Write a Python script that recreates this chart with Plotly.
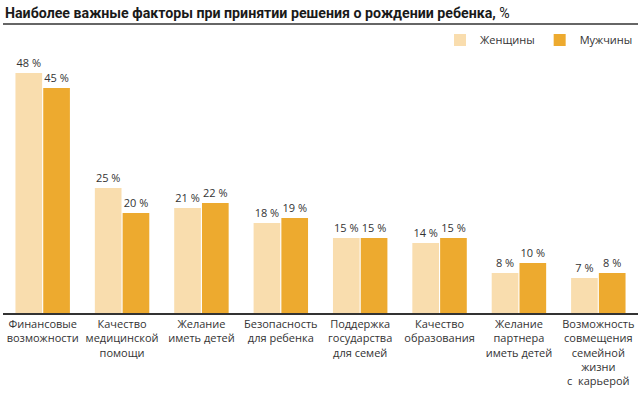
import plotly.graph_objects as go

categories = [
    "Финансовые<br>возможности",
    "Качество<br>медицинской<br>помощи",
    "Желание<br>иметь детей",
    "Безопасность<br>для ребенка",
    "Поддержка<br>государства<br>для семей",
    "Качество<br>образования",
    "Желание<br>партнера<br>иметь детей",
    "Возможность<br>совмещения<br>семейной<br>жизни<br>с  карьерой",
]
women = [48, 25, 21, 18, 15, 14, 8, 7]
men = [45, 20, 22, 19, 15, 15, 10, 8]

FONT = "Open Sans"
TXT = "#333333"

fig = go.Figure()
fig.add_bar(name="Женщины", x=categories, y=women,
            marker=dict(color="#F9DDAE", line=dict(width=0)),
            text=[f"{v} %" for v in women], textposition="outside",
            textfont=dict(size=11, color=TXT, family=FONT), cliponaxis=False)
fig.add_bar(name="Мужчины", x=categories, y=men,
            marker=dict(color="#EDAA2F", line=dict(width=0)),
            text=[f"{v} %" for v in men], textposition="outside",
            textfont=dict(size=11, color=TXT, family=FONT), cliponaxis=False)

fig.update_layout(
    width=642, height=393,
    margin=dict(l=3, r=4, t=63, b=80, autoexpand=False),
    paper_bgcolor="white", plot_bgcolor="white",
    barmode="group", bargap=0.3, bargroupgap=0.04,
    font=dict(family=FONT, color=TXT, size=11),
    showlegend=True,
    legend=dict(orientation="h", x=1.0, xanchor="right", y=1.092, yanchor="middle",
                font=dict(size=11, color=TXT, family=FONT), itemwidth=30,
                traceorder="normal"),
    xaxis=dict(showline=True, linecolor="#333333", linewidth=1.5, ticks="",
               automargin=False,
               tickfont=dict(size=11, color=TXT, family=FONT), showgrid=False),
    yaxis=dict(range=[0, 50], visible=False, showgrid=False, automargin=False),
)

fig.add_annotation(text="<b>Наиболее важные факторы при принятии решения о рождении ребенка,</b> %",
                   xref="paper", yref="paper", x=0, y=1.2, xanchor="left", yanchor="middle",
                   showarrow=False, font=dict(size=14.2, color="#1a1a1a", family="Roboto"))
fig.add_shape(type="line", xref="paper", yref="paper", x0=0, x1=1, y0=1.156, y1=1.156,
              line=dict(color="#333333", width=1.5))

fig.write_html("out.html", config={"displayModeBar": False},
               post_script="document.body.style.margin='0';")
